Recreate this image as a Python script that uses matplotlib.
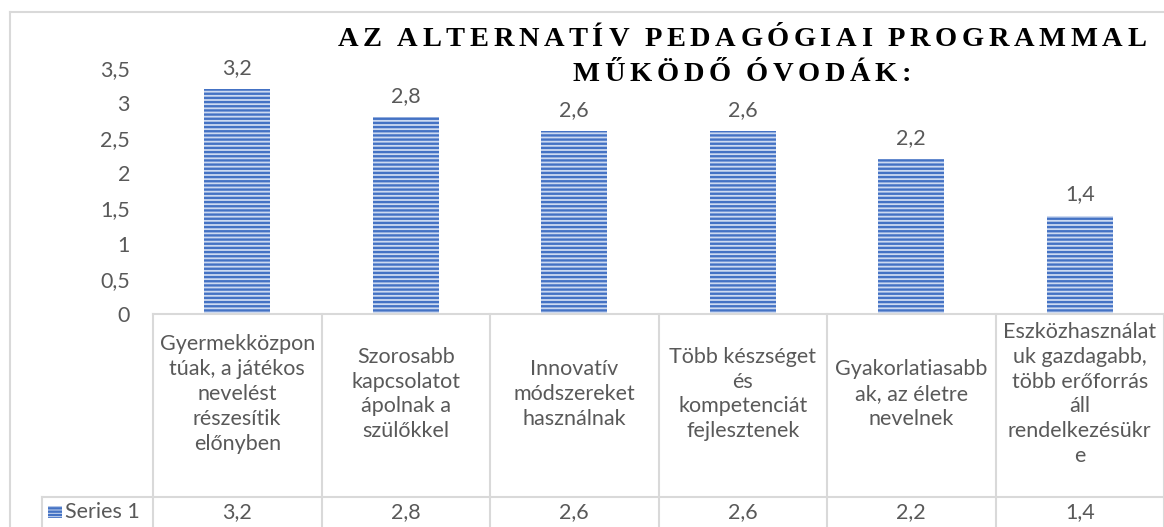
import numpy as np
import matplotlib
matplotlib.use("Agg")
import matplotlib.pyplot as plt
from matplotlib.lines import Line2D
from matplotlib.patches import Rectangle

categories = [
    "Gyermekközpon\ntúak, a játékos\nnevelést\nrészesítik\nelőnyben",
    "Szorosabb\nkapcsolatot\nápolnak a\nszülőkkel",
    "Innovatív\nmódszereket\nhasználnak",
    "Több készséget\nés\nkompetenciát\nfejlesztenek",
    "Gyakorlatiasabb\nak, az életre\nnevelnek",
    "Eszközhasználat\nuk gazdagabb,\ntöbb erőforrás\náll\nrendelkezésükr\ne",
]
values = [3.2, 2.8, 2.6, 2.6, 2.2, 1.4]
series_name = "Series 1"
yticks = [0, 0.5, 1, 1.5, 2, 2.5, 3, 3.5]
title_lines = ["AZ ALTERNATÍV PEDAGÓGIAI PROGRAMMAL", "MŰKÖDŐ ÓVODÁK:"]

W, H = 1164, 527
GRAY_TXT = "#595959"
GRID = "#d9d9d9"
BLUE = "#4472c4"
LIGHT = "#cddaf1"
FS = 15.5


def fmt(v):
    return f"{v:g}".replace(".", ",")


plt.rcParams["font.family"] = ["Lato", "DejaVu Sans"]
plt.rcParams["hatch.linewidth"] = 1.7

fig = plt.figure(figsize=(W / 100, H / 100), dpi=100)
ax = fig.add_axes([153 / W, (H - 314) / H, (W - 153) / W, (314 - 68) / H])

x = np.arange(len(values))
bars = ax.bar(x, values, width=0.39, color=LIGHT, edgecolor=BLUE,
              linewidth=0, hatch="----")
ax.bar_label(bars, labels=[fmt(v) for v in values], padding=8,
             color=GRAY_TXT, fontsize=FS)

ax.set_xlim(-0.5, len(values) - 0.5)
ax.set_ylim(0, 3.5)
ax.set_yticks(yticks)
ax.set_yticklabels([fmt(v) for v in yticks])
ax.set_xticks([])
ax.tick_params(axis="y", length=0, pad=16.5, labelcolor=GRAY_TXT, labelsize=FS)
for s in ["left", "right", "top"]:
    ax.spines[s].set_visible(False)
ax.spines["bottom"].set_color(GRID)
ax.spines["bottom"].set_linewidth(1.5)

# data table under the axis
trans = ax.get_xaxis_transform()
row_y = -(497 - 314) / 246
low = -1.0
lab_left = -0.5 - (153 - 42) / 168.5
for b in np.arange(-0.5, len(values), 1.0):
    ax.plot([b, b], [0, low], color=GRID, lw=1.5, transform=trans, clip_on=False)
ax.plot([lab_left, len(values) - 0.5], [row_y, row_y], color=GRID, lw=1.5,
        transform=trans, clip_on=False)
ax.plot([lab_left, lab_left], [row_y, low], color=GRID, lw=1.5,
        transform=trans, clip_on=False)

for i, (cat, v) in enumerate(zip(categories, values)):
    ax.text(i, -(394 - 314) / 246, cat, transform=trans, ha="center",
            va="center", color=GRAY_TXT, fontsize=FS, linespacing=1.3)
    ax.text(i, -(512 - 314) / 246, fmt(v), transform=trans, ha="center",
            va="center", color=GRAY_TXT, fontsize=FS)

ax.add_patch(Rectangle((lab_left + 6 / 168.5, -(518 - 314) / 246), 14 / 168.5,
                       12 / 246, transform=trans, clip_on=False,
                       facecolor=LIGHT, edgecolor=BLUE, lw=0, hatch="-----"))
ax.text(lab_left + 23 / 168.5, -(512 - 314) / 246, series_name, transform=trans,
        ha="left", va="center", color=GRAY_TXT, fontsize=FS)

# outer chart border
fig.add_artist(Line2D([10 / W, 10 / W], [0, 1 - 12 / H], color=GRID, lw=1.5))
fig.add_artist(Line2D([10 / W, 1], [1 - 12 / H, 1 - 12 / H], color=GRID, lw=1.5))

# letter-spaced title
tkw = dict(family="Liberation Serif", weight="bold", fontsize=20.5, color="black")
renderer = fig.canvas.get_renderer()


def char_widths(s):
    out = []
    for ch in s:
        if ch == " ":
            out.append(6.0)
            continue
        t = fig.text(0, 0, ch, **tkw)
        out.append(t.get_window_extent(renderer).width)
        t.remove()
    return out


w1 = char_widths(title_lines[0])
track = (809 - sum(w1)) / (len(w1) - 1)
for line, xc, yb in zip(title_lines, [742, 742], [46, 81]):
    ws = char_widths(line)
    total = sum(ws) + track * (len(ws) - 1)
    xp = xc - total / 2
    for ch, w in zip(line, ws):
        if ch != " ":
            fig.text(xp / W, 1 - yb / H, ch, ha="left", va="baseline", **tkw)
        xp += w + track

fig.savefig("out.png", dpi=100)
